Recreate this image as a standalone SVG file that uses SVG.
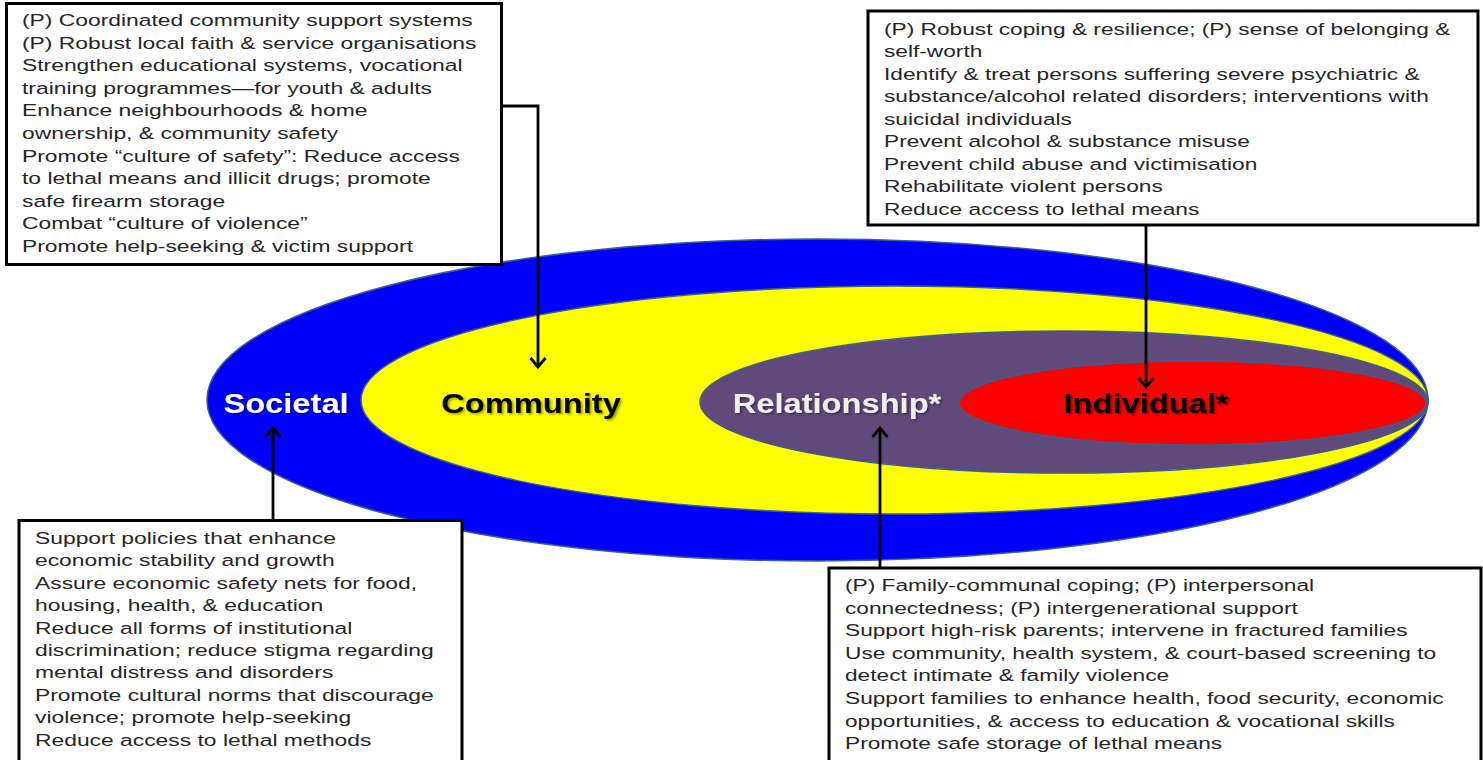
<svg xmlns="http://www.w3.org/2000/svg" width="1483" height="760" viewBox="0 0 1483 760">
  <style>
    .box { fill: #ffffff; stroke: #000000; stroke-width: 3; }
    .ring { stroke: #3b5f8a; stroke-width: 1.5; }
    .body { font-family: "Liberation Sans", Arial, sans-serif; font-size: 17px; fill: #262626; }
    .lvl { font-family: "Liberation Sans", Arial, sans-serif; font-size: 27px; font-weight: bold; text-anchor: middle; }
    .conn { fill: none; stroke: #000000; stroke-width: 2.8; }
  </style>
  <defs>
    <marker id="arrow" markerUnits="userSpaceOnUse" viewBox="-12 -10 14 20" refX="0" refY="0" markerWidth="14" markerHeight="20" orient="auto">
      <path d="M-9,-7.5 L0,0 L-9,7.5" fill="none" stroke="#000000" stroke-width="2.8"/>
    </marker>
    <filter id="shade" x="-10%" y="-30%" width="120%" height="160%">
      <feDropShadow dx="1.5" dy="1.5" stdDeviation="1" flood-color="#000000" flood-opacity="0.4"/>
    </filter>
  </defs>

  <rect width="1483" height="760" fill="#ffffff"/>

  <!-- nested levels of the model -->
  <g id="societal">
    <ellipse class="ring" cx="817.5" cy="400" rx="610.5" ry="161" fill="#0000ff"/>
    <text class="lvl" transform="translate(286,413) scale(1.21,1)" fill="#ffffff" filter="url(#shade)">Societal</text>
  </g>
  <g id="community">
    <ellipse class="ring" cx="894.5" cy="400" rx="533.5" ry="114" fill="#ffff00"/>
    <text class="lvl" transform="translate(531,413) scale(1.21,1)" fill="#000000" filter="url(#shade)">Community</text>
  </g>
  <g id="relationship">
    <ellipse class="ring" cx="1064" cy="402" rx="364" ry="71" fill="#604a7b"/>
    <text class="lvl" transform="translate(837,413) scale(1.21,1)" fill="#eeeeee" filter="url(#shade)">Relationship*</text>
  </g>
  <g id="individual">
    <ellipse class="ring" cx="1192.5" cy="403" rx="233.5" ry="42" fill="#ff0000"/>
    <text class="lvl" transform="translate(1146,413) scale(1.21,1)" fill="#000000" filter="url(#shade)">Individual*</text>
  </g>

  <!-- strategy boxes -->
  <g id="community-box">
    <rect class="box" x="6.5" y="3.5" width="495" height="261"/>
    <g class="body" transform="translate(22,0) scale(1.345,1)">
      <text y="26">(P) Coordinated community support systems</text>
      <text y="48.6">(P) Robust local faith &amp; service organisations</text>
      <text y="71.2">Strengthen educational systems, vocational</text>
      <text y="93.8">training programmes—for youth &amp; adults</text>
      <text y="116.4">Enhance neighbourhoods &amp; home</text>
      <text y="139">ownership, &amp; community safety</text>
      <text y="161.6">Promote “culture of safety”: Reduce access</text>
      <text y="184.2">to lethal means and illicit drugs; promote</text>
      <text y="206.8">safe firearm storage</text>
      <text y="229.4">Combat “culture of violence”</text>
      <text y="252">Promote help-seeking &amp; victim support</text>
    </g>
  </g>

  <g id="individual-box">
    <rect class="box" x="868" y="11" width="610" height="214"/>
    <g class="body" transform="translate(884,0) scale(1.335,1)">
      <text y="35">(P) Robust coping &amp; resilience; (P) sense of belonging &amp;</text>
      <text y="57.5">self-worth</text>
      <text y="80">Identify &amp; treat persons suffering severe psychiatric &amp;</text>
      <text y="102.5">substance/alcohol related disorders; interventions with</text>
      <text y="125">suicidal individuals</text>
      <text y="147.5">Prevent alcohol &amp; substance misuse</text>
      <text y="170">Prevent child abuse and victimisation</text>
      <text y="192.5">Rehabilitate violent persons</text>
      <text y="215">Reduce access to lethal means</text>
    </g>
  </g>

  <g id="societal-box">
    <rect class="box" x="19" y="520.5" width="443" height="260"/>
    <g class="body" transform="translate(35,0) scale(1.345,1)">
      <text y="544">Support policies that enhance</text>
      <text y="566.4">economic stability and growth</text>
      <text y="588.8">Assure economic safety nets for food,</text>
      <text y="611.2">housing, health, &amp; education</text>
      <text y="633.6">Reduce all forms of institutional</text>
      <text y="656">discrimination; reduce stigma regarding</text>
      <text y="678.4">mental distress and disorders</text>
      <text y="700.8">Promote cultural norms that discourage</text>
      <text y="723.2">violence; promote help-seeking</text>
      <text y="745.6">Reduce access to lethal methods</text>
    </g>
  </g>

  <g id="relationship-box">
    <rect class="box" x="829" y="568" width="652" height="220"/>
    <g class="body" transform="translate(845,0) scale(1.335,1)">
      <text y="591">(P) Family-communal coping; (P) interpersonal</text>
      <text y="613.6">connectedness; (P) intergenerational support</text>
      <text y="636.2">Support high-risk parents; intervene in fractured families</text>
      <text y="658.8">Use community, health system, &amp; court-based screening to</text>
      <text y="681.4">detect intimate &amp; family violence</text>
      <text y="704">Support families to enhance health, food security, economic</text>
      <text y="726.6">opportunities, &amp; access to education &amp; vocational skills</text>
      <text y="749.2">Promote safe storage of lethal means</text>
    </g>
  </g>

  <!-- connectors from each box to its level -->
  <g id="connectors">
    <path class="conn" d="M501,106 H538 V367" marker-end="url(#arrow)"/>
    <path class="conn" d="M1146,225 V387" marker-end="url(#arrow)"/>
    <path class="conn" d="M273,520 V428" marker-end="url(#arrow)"/>
    <path class="conn" d="M880,568 V428" marker-end="url(#arrow)"/>
  </g>
</svg>
